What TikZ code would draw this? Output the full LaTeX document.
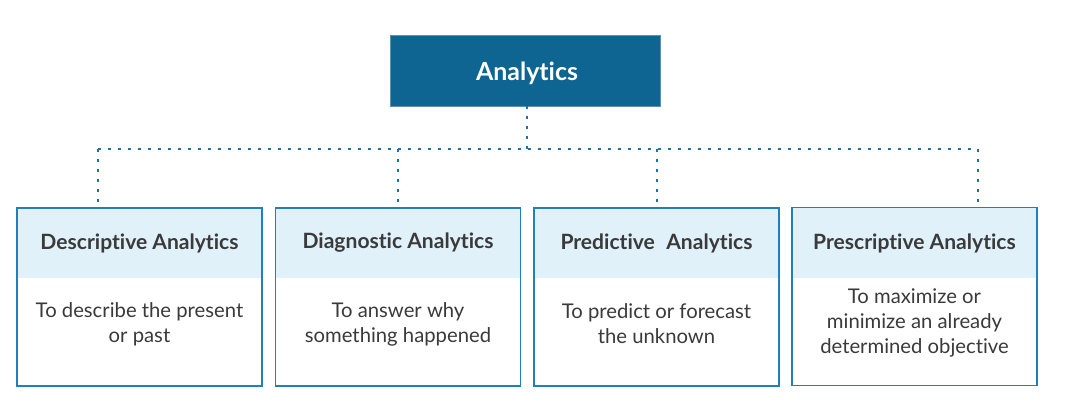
\documentclass[tikz,border=0pt]{standalone}
\usepackage{fontspec}
\setmainfont{Lato}[Ligatures={NoCommon}]
\usetikzlibrary{calc}
\definecolor{topblue}{HTML}{0E6591}
\definecolor{edgeblue}{HTML}{1F7FBF}
\definecolor{dotblue}{HTML}{1A73AA}
\definecolor{hdrfill}{HTML}{E1F1FA}
\definecolor{txt}{HTML}{3A3A3A}
\tikzset{
  topbox/.style={rectangle, fill=topblue, draw=topblue!70!white, line width=0.5pt,
    minimum width=270*0.75pt, minimum height=71*0.75pt, inner sep=0pt,
    text=white, font=\fontsize{18.7pt}{22pt}\selectfont\bfseries},
  catbox/.style={rectangle, fill=white, draw=edgeblue, line width=1.1pt,
    minimum width=245*0.75pt, minimum height=178*0.75pt, inner sep=0pt,
    path picture={\fill[hdrfill] (path picture bounding box.north west) rectangle ([yshift=-70*0.75pt]path picture bounding box.north east);}},
  cattitle/.style={text=txt, font=\fontsize{15.8pt}{18pt}\selectfont\bfseries, inner sep=0pt},
  catdesc/.style={text=txt, font=\fontsize{15.2pt}{18.75pt}\selectfont, align=center, inner sep=0pt},
  dotline/.style={dotblue, line width=1.9pt, dash pattern=on 1.9pt off 5.6pt}
}
\begin{document}
\begin{tikzpicture}[x=0.75pt,y=-0.75pt]
\useasboundingbox (0,0) rectangle (1078,412);
\node[topbox] (top) at (525,70.5) {};
\node[text=white, font=\fontsize{18.7pt}{22pt}\selectfont\bfseries, inner sep=0pt] (toplbl) at (527,73) {Analytics};

\node[catbox] (b1) at (139.5,297) {};
\node[catbox] (b2) at (398,297) {};
\node[catbox] (b3) at (656.5,297) {};
\node[catbox] (b4) at (914.5,296.5) {};

\node[cattitle] (t1) at (139.5,243) {Descriptive Analytics};
\node[cattitle] (t2) at (398,243) {Diagnostic Analytics};
\node[cattitle] (t3) at (656.5,243) {Predictive\hspace{0.3em} Analytics};
\node[cattitle] (t4) at (914.5,243) {Prescriptive Analytics};

\node[catdesc] (d1) at (139.5,324) {To describe the present\\or past};
\node[catdesc] (d2) at (398,324) {To answer why\\something happened};
\node[catdesc] (d3) at (656.5,324) {To predict or forecast\\the unknown};
\node[catdesc] (d4) at (914.5,323) {To maximize or\\minimize an already\\determined objective};

\coordinate (j) at (527,149);
\coordinate (c1) at (98,149);
\coordinate (c2) at (398,149);
\coordinate (c3) at (657,149);
\coordinate (c4) at (978,149);

\draw[dotline] (top.south -| j) -- (j);
\draw[dotline] (c1) -- (c4);
\draw[dotline] (c1) -- ([yshift=2.5pt]c1 |- b1.north);
\draw[dotline] (c2) -- ([yshift=2.5pt]c2 |- b2.north);
\draw[dotline] (c3) -- ([yshift=2.5pt]c3 |- b3.north);
\draw[dotline] (c4) -- ([yshift=2.5pt]c4 |- b4.north);
\end{tikzpicture}
\end{document}
